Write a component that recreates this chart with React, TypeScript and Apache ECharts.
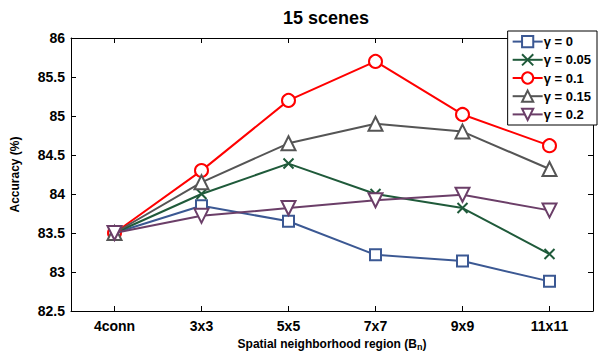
import React, { useEffect, useRef } from "react";
import * as echarts from "echarts";

const categories = ["4conn", "3x3", "5x5", "7x7", "9x9", "11x11"];
const seriesNames = ["γ = 0", "γ = 0.05", "γ = 0.1", "γ = 0.15", "γ = 0.2"];
const g0 = [83.5, 83.85, 83.65, 83.22, 83.14, 82.88];
const g005 = [83.5, 84.0, 84.39, 84.0, 83.82, 83.23];
const g01 = [83.5, 84.3, 85.2, 85.7, 85.02, 84.62];
const g015 = [83.5, 84.15, 84.65, 84.9, 84.8, 84.32];
const g02 = [83.5, 83.72, 83.82, 83.92, 83.99, 83.79];
const seriesData = [g0, g005, g01, g015, g02];
const colors = ["#3b5893", "#1f5a3a", "#ff0000", "#555555", "#6b3e68"];
const symbols = ["emptyRect", "path://M0,0L10,10M10,0L0,10", "emptyCircle", "emptyTriangle", "emptyTriangle"];
const symbolRotates = [0, 0, 0, 0, 180];
const symbolSizes = [11, 10, 13, 14, 14];

export default function App() {
  const ref = useRef<HTMLDivElement>(null);
  useEffect(() => {
    document.body.style.margin = "0";
    const chart = echarts.init(ref.current!, null, { renderer: "svg" });
    const font = "Arial, 'Liberation Sans', sans-serif";
    chart.setOption({
      animation: false,
      backgroundColor: "#ffffff",
      title: {
        text: "15 scenes",
        left: 321,
        top: 4,
        textAlign: "center",
        textStyle: { fontFamily: font, fontWeight: "bold", fontSize: 18, color: "#000" },
      },
      legend: {
        orient: "vertical",
        right: 2,
        top: 31,
        data: seriesNames,
        backgroundColor: "#fff",
        borderColor: "#000",
        borderWidth: 1,
        borderRadius: 0,
        padding: [4, 6, 4, 4],
        itemGap: 5,
        itemWidth: 30,
        itemHeight: 14,
        textStyle: { fontFamily: font, fontWeight: "bold", fontSize: 13, color: "#000", padding: [0, 0, 0, -4] },
      },
      grid: { left: 71, right: 6, top: 38, bottom: 43, outerBoundsMode: "none", containLabel: false },
      xAxis: [
        {
          type: "category",
          data: categories,
          boundaryGap: true,
          name: "Spatial neighborhood region (B{sub|n})",
          nameLocation: "middle",
          nameGap: 23,
          nameTextStyle: {
            fontFamily: font, fontWeight: "bold", fontSize: 12, color: "#000",
            rich: { sub: { fontFamily: font, fontWeight: "bold", fontSize: 9, color: "#000", verticalAlign: "bottom", padding: [6, 0, 0, 0] } },
          },
          axisLine: { show: true, onZero: false, lineStyle: { color: "#000", width: 1 } },
          axisTick: { show: true, inside: true, alignWithLabel: true, length: 5, lineStyle: { color: "#000" } },
          axisLabel: { fontFamily: font, fontWeight: "bold", fontSize: 14, color: "#000", margin: 8 },
          splitLine: { show: false },
        },
        {
          type: "category",
          data: categories,
          position: "top",
          boundaryGap: true,
          axisLine: { show: true, onZero: false, lineStyle: { color: "#000", width: 1 } },
          axisTick: { show: true, inside: true, alignWithLabel: true, length: 5, lineStyle: { color: "#000" } },
          axisLabel: { show: false },
        },
      ],
      yAxis: [
        {
          type: "value",
          min: 82.5,
          max: 86,
          interval: 0.5,
          name: "Accuracy (%)",
          nameLocation: "middle",
          nameGap: 50,
          nameTextStyle: { fontFamily: font, fontWeight: "bold", fontSize: 12, color: "#000" },
          axisLine: { show: true, onZero: false, lineStyle: { color: "#000", width: 1 } },
          axisTick: { show: true, inside: true, length: 5, lineStyle: { color: "#000" } },
          axisLabel: { fontFamily: font, fontWeight: "bold", fontSize: 14, color: "#000", margin: 6 },
          splitLine: { show: false },
        },
        {
          type: "value",
          min: 82.5,
          max: 86,
          interval: 0.5,
          position: "right",
          axisLine: { show: true, onZero: false, lineStyle: { color: "#000", width: 1 } },
          axisTick: { show: true, inside: true, length: 5, lineStyle: { color: "#000" } },
          axisLabel: { show: false },
          splitLine: { show: false },
        },
      ],
      series: seriesNames.map((name, i) => ({
        name,
        type: "line",
        data: seriesData[i],
        xAxisIndex: 0,
        yAxisIndex: 0,
        symbol: symbols[i],
        symbolSize: symbolSizes[i],
        symbolRotate: symbolRotates[i],
        showAllSymbol: true,
        color: colors[i],
        lineStyle: { color: colors[i], width: 2 },
        itemStyle: { color: colors[i], borderColor: colors[i], borderWidth: 2 },
        z: 2 + i,
      })),
    });
    return () => chart.dispose();
  }, []);
  return <div ref={ref} style={{ width: 599, height: 354 }} />;
}
